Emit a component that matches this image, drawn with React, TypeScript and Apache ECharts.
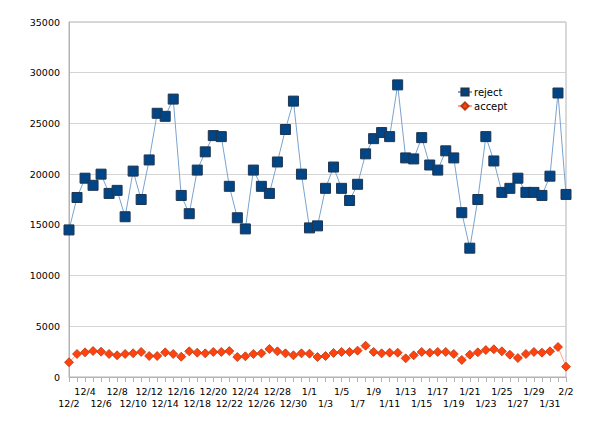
import React, { useEffect, useRef } from "react";
import * as echarts from "echarts";

const dates: string[] = [
  "12/2","12/3","12/4","12/5","12/6","12/7","12/8","12/9","12/10","12/11","12/12","12/13","12/14","12/15","12/16","12/17","12/18","12/19","12/20","12/21","12/22","12/23","12/24","12/25","12/26","12/27","12/28","12/29","12/30","12/31",
  "1/1","1/2","1/3","1/4","1/5","1/6","1/7","1/8","1/9","1/10","1/11","1/12","1/13","1/14","1/15","1/16","1/17","1/18","1/19","1/20","1/21","1/22","1/23","1/24","1/25","1/26","1/27","1/28","1/29","1/30","1/31",
  "2/1","2/2",
];

const reject: number[] = [
  14500, 17700, 19600, 18900, 20000, 18100, 18400, 15800, 20300, 17500,
  21400, 26000, 25700, 27400, 17900, 16100, 20400, 22200, 23800, 23700,
  18800, 15700, 14600, 20400, 18800, 18100, 21200, 24400, 27200, 20000,
  14700, 14900, 18600, 20700, 18600, 17400, 19000, 22000, 23500, 24100,
  23700, 28800, 21600, 21500, 23600, 20900, 20400, 22300, 21600, 16200,
  12700, 17500, 23700, 21300, 18200, 18600, 19600, 18200, 18200, 17900,
  19800, 28000, 18000,
];

const accept: number[] = [
  1450, 2270, 2430, 2560, 2500, 2270, 2140, 2270, 2340, 2470,
  2070, 2070, 2430, 2270, 2000, 2530, 2400, 2330, 2470, 2470,
  2560, 1970, 2040, 2270, 2330, 2760, 2530, 2330, 2140, 2330,
  2300, 1970, 2070, 2370, 2470, 2470, 2600, 3090, 2470, 2330,
  2400, 2400, 1840, 2140, 2470, 2400, 2470, 2470, 2270, 1680,
  2200, 2430, 2660, 2730, 2530, 2200, 1870, 2270, 2470, 2400,
  2530, 2960, 1020,
];

const FONT = "DejaVu Sans";

export default function App() {
  const ref = useRef<HTMLDivElement>(null);
  useEffect(() => {
    if (!ref.current) return;
    const chart = echarts.init(ref.current, undefined, { renderer: "svg" });
    chart.setOption({
      animation: false,
      backgroundColor: "#ffffff",
      textStyle: { fontFamily: FONT },
      grid: {
        left: 69,
        right: 34,
        top: 22,
        bottom: 49,
        show: true,
        borderColor: "#b3b3b3",
        borderWidth: 1,
        backgroundColor: "transparent",
      },
      legend: {
        orient: "vertical",
        left: 452,
        top: 82,
        itemWidth: 14,
        itemHeight: 9,
        itemGap: 4,
        textStyle: { fontFamily: FONT, fontSize: 10, color: "#000", padding: [0, 0, 0, -3] },
        data: ["reject", "accept"],
      },
      xAxis: {
        type: "category",
        data: dates,
        boundaryGap: false,
        axisLine: { lineStyle: { color: "#b3b3b3" } },
        axisTick: { show: true, interval: 0, length: 5, lineStyle: { color: "#b3b3b3" } },
        splitLine: { show: false },
        axisLabel: {
          interval: 0,
          margin: 8,
          fontFamily: FONT,
          fontSize: 9.5,
          color: "#000",
          lineHeight: 12,
          formatter: (v: string, i: number) => {
            if (i % 4 === 0) return "\n" + v;
            if (i % 4 === 2) return v;
            return "";
          },
        },
      },
      yAxis: {
        type: "value",
        min: 0,
        max: 35000,
        interval: 5000,
        axisLine: { show: true, lineStyle: { color: "#b3b3b3" } },
        axisTick: { show: false },
        splitLine: { lineStyle: { color: "#d4d4d4" } },
        axisLabel: {
          margin: 9,
          fontFamily: FONT,
          fontSize: 9.5,
          color: "#000",
          formatter: (v: number) => String(v),
        },
      },
      series: [
        {
          name: "reject",
          type: "line",
          data: reject,
          symbol: "rect",
          symbolSize: 10,
          lineStyle: { color: "#7aa3cf", width: 1 },
          itemStyle: { color: "#004586", borderColor: "#203550", borderWidth: 1 },
          z: 3,
        },
        {
          name: "accept",
          type: "line",
          data: accept,
          symbol: "diamond",
          symbolSize: 9,
          lineStyle: { color: "#ffa58a", width: 1 },
          itemStyle: { color: "#ff420e", borderColor: "#b83a10", borderWidth: 0.8 },
          z: 3,
        },
      ],
    });
    return () => chart.dispose();
  }, []);
  return <div ref={ref} style={{ width: 600, height: 426, position: "absolute", left: 0, top: 0 }} />;
}
